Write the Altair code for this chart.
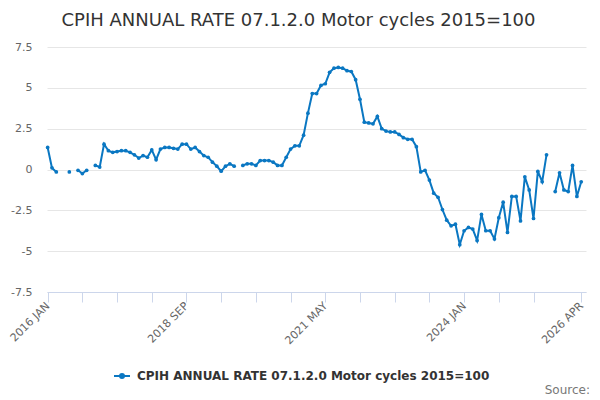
import altair as alt
import pandas as pd

TITLE = "CPIH ANNUAL RATE 07.1.2.0 Motor cycles 2015=100"
SERIES = "CPIH ANNUAL RATE 07.1.2.0 Motor cycles 2015=100"
BLUE = "#0a77c2"

MONTH_NAMES = ["JAN", "FEB", "MAR", "APR", "MAY", "JUN",
               "JUL", "AUG", "SEP", "OCT", "NOV", "DEC"]
START_YEAR = 2016
N_MONTHS = 124  # 2016 JAN .. 2026 APR

values = [
    1.35, 0.1, -0.15, None, None, -0.15, None, -0.05, -0.25, -0.05,
    None, 0.25, 0.15, 1.55, 1.15, 1.05, 1.1, 1.15, 1.15, 1.05,
    0.9, 0.7, 0.85, 0.75, 1.2, 0.6, 1.25, 1.35, 1.35, 1.3,
    1.25, 1.55, 1.55, 1.25, 1.35, 1.1, 0.85, 0.75, 0.45, 0.2,
    -0.1, 0.2, 0.35, 0.2, None, 0.25, 0.35, 0.35, 0.25, 0.55,
    0.55, 0.55, 0.45, 0.25, 0.25, 0.75, 1.25, 1.45, 1.45, 2.1,
    3.45, 4.65, 4.65, 5.15, 5.25, 5.95, 6.2, 6.25, 6.2, 6.05,
    6.0, 5.5, 4.3, 2.9, 2.85, 2.8, 3.25, 2.5, 2.35, 2.3,
    2.3, 2.15, 1.95, 1.85, 1.85, 1.4, -0.15, -0.05, -0.65, -1.45,
    -1.7, -2.45, -3.1, -3.45, -3.35, -4.6, -3.75, -3.55, -3.65, -4.35,
    -2.75, -3.75, -3.75, -4.25, -2.95, -2.0, -3.85, -1.65, -1.65, -3.15,
    -0.45, -1.25, -3.0, -0.12, -0.75, 0.9, None, -1.35, -0.2, -1.25,
    -1.35, 0.25, -1.65, -0.75,
]

months = [f"{START_YEAR + k // 12} {MONTH_NAMES[k % 12]}" for k in range(N_MONTHS)]

# x-axis ticks and labels
tick_positions = [0, 8, 16, 24, 32, 40, 48, 56, 64, 72, 80, 88, 96, 104, 112, 123]
label_positions = [0, 32, 64, 96, 123]
label_texts = [months[p] for p in label_positions]
y_ticks = [-7.5, -5, -2.5, 0, 2.5, 5, 7.5]

df = pd.DataFrame({
    "idx": list(range(N_MONTHS)),
    "month": months,
    "value": values,
    "series": [SERIES] * N_MONTHS,
})

label_expr = "".join(
    f"datum.value == {p} ? '{t}' : " for p, t in zip(label_positions, label_texts)
) + "''"

FONT = "DejaVu Sans"

x_enc = alt.X(
    "idx:Q",
    scale=alt.Scale(domain=[-0.15, 124.1], nice=False, zero=False),
    axis=alt.Axis(
        values=tick_positions,
        labelExpr=label_expr,
        title=None,
        grid=False,
        domainColor="#ccd6eb",
        tickColor="#ccd6eb",
        tickSize=10,
        labelAngle=315,
        labelAlign="right",
        labelBaseline="middle",
        labelPadding=2,
        labelFontSize=11,
        labelColor="#666666",
        labelFont=FONT,
        labelOverlap=False,
        labelFlush=False,
    ),
)
y_enc = alt.Y(
    "value:Q",
    scale=alt.Scale(domain=[-7.5, 7.5], nice=False, zero=False),
    axis=alt.Axis(
        values=y_ticks,
        labelExpr="datum.value",
        title=None,
        grid=True,
        gridColor="#e6e6e6",
        domain=False,
        ticks=False,
        labelPadding=15,
        labelFontSize=11,
        labelColor="#666666",
        labelFont=FONT,
    ),
)
color_enc = alt.Color(
    "series:N",
    scale=alt.Scale(range=[BLUE]),
    legend=alt.Legend(
        title=None,
        orient="none",
        legendX=66,
        legendY=320,
        symbolType="M-1,0L1,0M-0.25,0A0.25,0.25,0,1,1,0.25,0A0.25,0.25,0,1,1,-0.25,0",
        symbolSize=256,
        symbolStrokeWidth=2,
        symbolStrokeColor=BLUE,
        symbolFillColor=BLUE,
        labelFont=FONT,
        labelFontSize=12,
        labelFontWeight="bold",
        labelColor="#333333",
        labelOffset=6,
        labelLimit=600,
        padding=0,
    ),
)

base = alt.Chart(df)
line = base.mark_line(strokeWidth=2, invalid="break-paths-show-domains").encode(
    x=x_enc, y=y_enc, color=color_enc
)
points = base.transform_filter("isValid(datum.value)").mark_point(
    filled=True, size=14, opacity=1
).encode(x=x_enc, y=y_enc, color=color_enc)

source = alt.Chart(pd.DataFrame({"t": ["Source:"]})).mark_text(
    align="right", baseline="alphabetic", font=FONT, fontSize=12, color="#777777"
).encode(text="t:N", x=alt.value(543), y=alt.value(347))

chart = alt.layer(line, points, source).properties(
    width=539,
    height=245,
    padding={"left": 39, "top": 39, "right": 6, "bottom": 112},
    autosize="none",
    title=alt.TitleParams(
        TITLE,
        font=FONT,
        fontSize=18,
        fontWeight="normal",
        color="#333333",
        anchor="middle",
        dx=-18,
        offset=11,
    ),
).configure_view(stroke=None)

chart.save("out.html", embed_options={"renderer": "svg", "actions": False})
